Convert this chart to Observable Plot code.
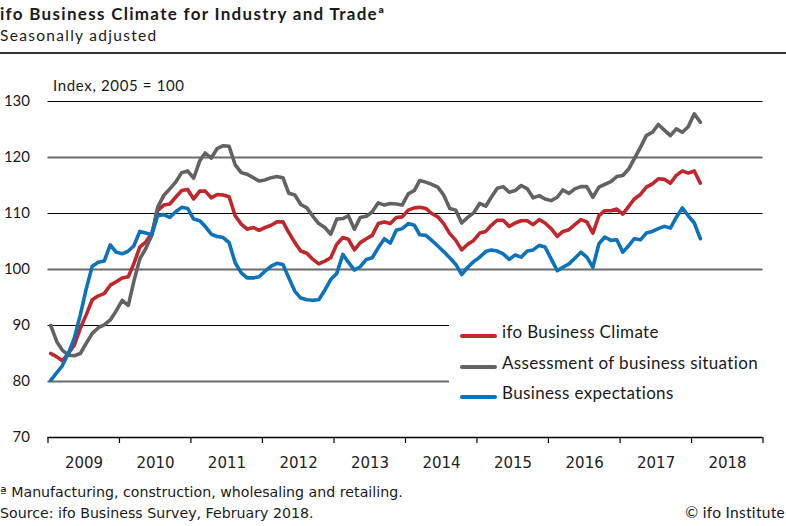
<!DOCTYPE html>
<html><head><meta charset="utf-8">
<script src="https://cdn.jsdelivr.net/npm/d3@7"></script>
<script src="https://cdn.jsdelivr.net/npm/@observablehq/plot@0.6"></script>
<style>
html,body{margin:0;padding:0;background:#fff}
body{width:786px;height:526px;position:relative;overflow:hidden;font-family:Lato,sans-serif;color:#1a1a1a}
.abs{position:absolute;white-space:nowrap;line-height:1}
#chart{position:absolute;left:0;top:60px}
#legend{position:absolute;left:449px;top:312px;width:337px;height:96px;background:#fff}
.sw{position:absolute;left:11px;width:37px;height:4px;border-radius:2px}
.lt{position:absolute;left:53px;font-size:17px;line-height:1;white-space:nowrap;letter-spacing:0.35px}
</style></head><body>
<div class="abs" style="left:0;top:4.5px;font-size:17px;font-weight:bold;letter-spacing:1.3px">ifo Business Climate for Industry and Tradeª</div>
<div class="abs" style="left:0;top:27.5px;font-size:15.5px;letter-spacing:1.3px">Seasonally adjusted</div>
<div class="abs" style="left:0;top:52px;width:786px;height:2px;background:#333"></div>
<div class="abs" style="left:53px;top:77.5px;font-size:15px;letter-spacing:0.65px">Index, 2005 = 100</div>
<div id="chart"></div>
<div id="legend"></div>
<div class="abs" style="left:0;top:485px;font-family:'DejaVu Sans';font-size:14.2px">ª Manufacturing, construction, wholesaling and retailing.</div>
<div class="abs" style="left:0;top:505.5px;font-family:'DejaVu Sans';font-size:14.2px">Source: ifo Business Survey, February 2018.</div>
<div class="abs" style="right:1px;top:505px;font-size:15.5px;letter-spacing:0.3px">© ifo Institute</div>
<script>
// Series names and colours
const seriesNames = ["ifo Business Climate", "Assessment of business situation", "Business expectations"];
const seriesColors = ["#c0272d", "#626262", "#0c72ba"];

// Monthly values, January 2009 – February 2018 (index, 2005 = 100)
const climate = [
  85.0, 84.4, 83.7, 85.0, 86.5, 89.5, 91.9, 94.6, 95.3, 95.7, 97.2, 97.8,
  98.5, 98.7, 101.0, 104.0, 104.9, 106.4, 110.5, 111.5, 111.7, 112.9, 114.1, 114.3,
  112.6, 114.0, 114.0, 112.8, 113.4, 113.3, 113.0, 109.6, 108.1, 107.2, 107.5, 107.0,
  107.5, 107.9, 108.5, 108.5, 106.6, 104.8, 103.3, 102.9, 101.8, 101.0, 101.5, 102.1,
  104.5, 105.7, 105.4, 103.5, 104.8, 105.5, 106.1, 108.2, 108.5, 108.2, 109.3, 109.4,
  110.6, 111.0, 111.1, 110.9, 110.0, 109.4, 108.2, 106.4, 105.2, 103.5, 104.5, 105.2,
  106.5, 106.8, 107.9, 108.8, 108.8, 107.7, 108.3, 108.7, 108.7, 108.0, 108.9, 108.3,
  107.3, 105.9, 106.8, 107.1, 108.0, 108.9, 108.5, 106.5, 109.6, 110.5, 110.5, 110.8,
  109.9, 111.3, 112.6, 113.4, 114.7, 115.3, 116.2, 116.1, 115.4, 116.8, 117.6, 117.2,
  117.6, 115.4
];
const situation = [
  90.0, 87.1, 85.6, 84.7, 84.6, 85.0, 86.8, 88.6, 89.6, 90.1, 91.0, 92.6,
  94.5, 93.6, 97.8, 101.9, 103.7, 106.1, 111.1, 113.2, 114.4, 115.6, 117.3, 117.6,
  116.3, 119.4, 120.8, 119.9, 121.6, 122.1, 122.0, 118.7, 117.3, 117.0, 116.4, 115.8,
  116.0, 116.4, 116.6, 116.4, 113.6, 113.3, 111.6, 111.0, 109.5, 108.2, 107.5, 106.3,
  109.0, 109.1, 109.6, 107.2, 109.3, 109.5, 110.3, 111.9, 111.5, 111.8, 111.7, 111.5,
  113.5, 114.1, 115.9, 115.6, 115.2, 114.7, 113.3, 110.9, 110.6, 108.3, 109.3, 110.1,
  111.8, 111.3, 112.9, 114.5, 114.8, 113.8, 114.1, 115.0, 114.4, 112.8, 113.2, 112.6,
  112.3, 112.9, 114.2, 113.6, 114.4, 114.8, 114.8, 112.9, 114.7, 115.2, 115.7, 116.6,
  116.8, 118.0, 119.8, 121.8, 123.9, 124.5, 125.9, 124.9, 123.9, 125.1, 124.5, 125.5,
  127.8, 126.3
];
const expectations = [
  80.2, 81.6, 82.8, 85.0, 87.7, 91.9, 96.5, 100.6, 101.3, 101.5, 104.4, 103.1,
  102.8, 103.3, 104.2, 106.8, 106.5, 106.2, 109.6, 109.8, 109.3, 110.3, 111.1, 110.9,
  109.0, 108.7, 107.7, 106.3, 105.9, 105.7, 104.8, 101.2, 99.4, 98.5, 98.5, 98.7,
  99.7, 100.6, 101.1, 100.9, 98.5, 96.1, 94.9, 94.6, 94.5, 94.6, 96.3, 98.2,
  99.3, 102.7, 101.3, 99.9, 100.5, 101.8, 102.1, 103.9, 105.5, 104.7, 107.0, 107.3,
  108.2, 107.9, 106.2, 106.1, 105.2, 104.2, 103.2, 102.1, 100.9, 99.1, 100.4, 101.4,
  102.2, 103.2, 103.5, 103.3, 102.8, 101.8, 102.6, 102.2, 103.3, 103.5, 104.3, 104.0,
  101.9, 99.8, 100.4, 101.0, 102.0, 103.1, 102.2, 100.4, 104.6, 105.8, 105.2, 105.3,
  103.1, 104.3, 105.5, 105.3, 106.5, 106.8, 107.3, 107.7, 107.4, 109.3, 111.0, 109.6,
  108.3, 105.5
];

const yTicks = [70, 80, 90, 100, 110, 120, 130];
const blackGrid = [130, 110, 90];
const grayGrid = [120, 100, 80];
const yearLabels = [2009, 2010, 2011, 2012, 2013, 2014, 2015, 2016, 2017, 2018];

// Build table
const months = d3.utcMonth.range(new Date(Date.UTC(2009, 0, 1)), new Date(Date.UTC(2018, 2, 1)))
  .map(d => d3.utcDay.offset(d, 14));
const allSeries = [climate, situation, expectations];
const data = [];
allSeries.forEach((vals, i) => vals.forEach((v, j) => data.push({date: months[j], value: v, series: seriesNames[i]})));

const yearStarts = d3.range(yearLabels[0], yearLabels[yearLabels.length - 1] + 2).map(y => new Date(Date.UTC(y, 0, 1)));
const yearMids = yearLabels.map(y => new Date(Date.UTC(y, 6, 4)));

const chart = Plot.plot({
  width: 786,
  height: 420,
  marginLeft: 47.5,
  marginRight: 23.5,
  marginTop: 41,
  marginBottom: 43,
  style: {fontFamily: "Lato, sans-serif", color: "#1a1a1a", background: "transparent"},
  x: {type: "utc", domain: [yearStarts[0], yearStarts[yearStarts.length - 1]], label: null},
  y: {domain: [70, 130], label: null},
  color: {domain: seriesNames, range: seriesColors},
  marks: [
    Plot.ruleY(blackGrid, {stroke: "#000", strokeWidth: 1.1}),
    Plot.ruleY(grayGrid, {stroke: "#6b6b6b", strokeWidth: 2}),
    Plot.ruleY([70], {stroke: "#000", strokeWidth: 1.3}),
    Plot.axisY({ticks: yTicks, tickSize: 0, tickPadding: 18, fontSize: 15, fill: "#1a1a1a", label: null}),
    Plot.axisX({ticks: yearStarts, tickSize: 6, tickFormat: () => "", stroke: "#000", strokeWidth: 1.2, label: null}),
    Plot.axisX({ticks: yearMids, tickSize: 0, tickPadding: 20, tickFormat: d3.utcFormat("%Y"), fontFamily: "DejaVu Sans", fontSize: 15, fill: "#222", label: null}),
    Plot.lineY(data, {x: "date", y: "value", z: "series", stroke: "series", strokeWidth: 3.6, strokeLinejoin: "round", strokeLinecap: "round"})
  ]
});
document.getElementById("chart").appendChild(chart);

// Legend
const legend = document.getElementById("legend");
const legendTops = [22.3, 53, 83];
seriesNames.forEach((name, i) => {
  const sw = document.createElement("div");
  sw.className = "sw";
  sw.style.top = (legendTops[i]) + "px";
  sw.style.background = seriesColors[i];
  legend.appendChild(sw);
  const t = document.createElement("div");
  t.className = "lt";
  t.style.top = (legendTops[i] - 11.5) + "px";
  t.textContent = name;
  legend.appendChild(t);
});
</script>
</body></html>
